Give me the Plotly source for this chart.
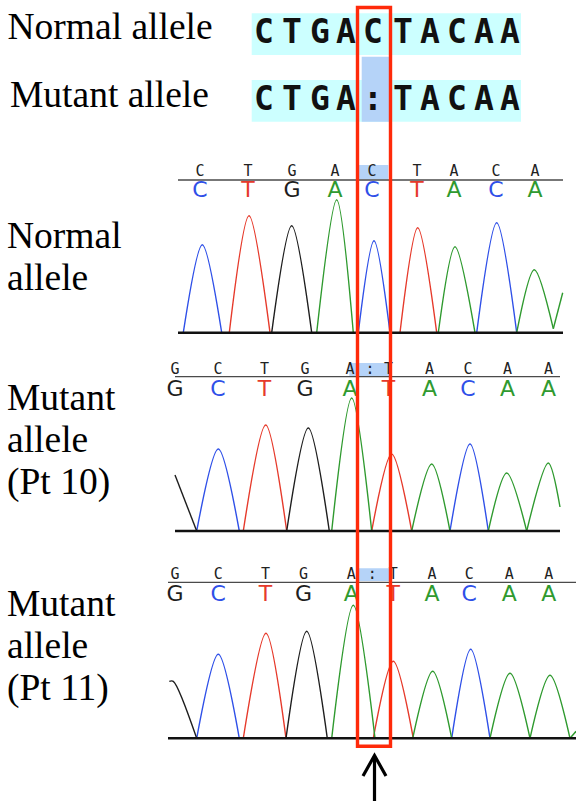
import plotly.graph_objects as go

W, H = 576, 801

# ---------------- data ----------------
SEQ_NORMAL = list("CTGACTACAA")
SEQ_MUTANT = list("CTGA:TACAA")
SEQ_POS = [264, 292, 320, 346, 373, 403, 430, 457, 484, 510]

BASE_COLORS = {"A": "#2f9a2f", "C": "#2f50e8", "G": "#1e1e1e", "T": "#e63a2b"}

# Panel 1 - normal allele
P1_CALLS = ["C", "T", "G", "A", "C", "T", "A", "C", "A"]
P1_CALL_POS = [200, 248, 292, 335, 372, 417, 454, 496, 535]
P1_PEAK_BASE = ["C", "T", "G", "A", "C", "T", "A", "C", "A", "A"]
P1_X0 = [183.3, 229.3, 271.7, 316.7, 358.3, 400.0, 438.3, 476.7, 516.7, 553.3]
P1_XP = [202.3, 249.0, 291.7, 336.7, 374.0, 417.7, 455.0, 496.7, 534.3, None]
P1_X1 = [221.7, 270.0, 311.7, 353.3, 390.0, 436.7, 475.0, 516.7, 553.3, 562.7]
P1_Y0 = [0, 0, 0, 0, 0, 0, 0, 0, 0, 4]
P1_YP = [88, 117, 107, 133, 92, 105, 86, 110, 63, None]
P1_Y1 = [0, 0, 0, 0, 0, 0, 0, 0, 4, 40]

# Panel 2 - mutant allele (Pt 10)
P2_CALLS = ["G", "C", "T", "G", "A", ":", "T", "A", "C", "A", "A"]
P2_CALL_POS = [175, 218, 264.5, 305, 350, 370, 388.5, 429.5, 468, 507.5, 548.5]
P2_PEAK_BASE = ["G", "C", "T", "G", "A", "T", "A", "C", "A", "A"]
P2_X0 = [None, 196.7, 243.3, 286.7, 331.7, 371.7, 411.7, 450.0, 488.3, 526.7]
P2_XP = [175.0, 218.3, 265.7, 308.3, 351.7, 391.7, 431.7, 470.0, 506.7, 548.3]
P2_X1 = [196.7, 239.3, 286.7, 329.3, 371.7, 411.7, 450.0, 488.3, 526.7, 560.0]
P2_Y0 = [0, 0, 0, 0, 0, 0, 0, 0, 0, 0]
P2_YP = [56, 82, 106, 103, 133, 77, 67, 87, 58, 68]
P2_Y1 = [0, 0, 0, 0, 0, 0, 0, 0, 0, 24]

# Panel 3 - mutant allele (Pt 11)
P3_CALLS = ["G", "C", "T", "G", "A", ":", "T", "A", "C", "A", "A"]
P3_CALL_POS = [175, 218.3, 265.5, 303.5, 351.3, 372.3, 393.3, 432.0, 469.3, 509.3, 548.8]
P3_PEAK_BASE = ["G", "C", "T", "G", "A", "T", "A", "C", "A", "A", "A"]
P3_X0 = [169.3, 196.7, 243.3, 286.0, 331.7, 373.3, 412.7, 451.7, 490.0, 530.0, 570.0]
P3_XP = [173.3, 218.3, 266.0, 306.7, 353.3, 393.3, 432.7, 470.7, 510.0, 550.0, None]
P3_X1 = [196.7, 239.3, 286.0, 327.3, 375.0, 413.3, 451.7, 490.0, 530.0, 570.0, 576.0]
P3_Y0 = [57, 0, 0, 0, 0, 0, 0, 0, 0, 0, 0]
P3_YP = [57, 84, 105, 107, 133, 77, 67, 89, 65, 63, None]
P3_Y1 = [0, 0, 0, 0, 0, 0, 0, 0, 0, 0, 7]

TOP_LABELS = ["Normal allele", "Mutant allele"]
SIDE_LABELS = [["Normal", "allele"],
               ["Mutant", "allele", "(Pt 10)"],
               ["Mutant", "allele", "(Pt 11)"]]

# ---------------- layout geometry (pixels) ----------------
PANELS = [
    dict(base=332.7, top_line=180.0, x_from=178, x_to=563, small_y=172.7, big_y=191.7,
         hl=(358.3, 388.3, 165.0, 179.3),
         calls=P1_CALLS, call_pos=P1_CALL_POS, peaks=(P1_PEAK_BASE, P1_X0, P1_XP, P1_X1, P1_Y0, P1_YP, P1_Y1)),
    dict(base=531.0, top_line=376.7, x_from=175, x_to=560, small_y=370.0, big_y=390.3,
         hl=(349.3, 391.7, 363.0, 376.0),
         calls=P2_CALLS, call_pos=P2_CALL_POS, peaks=(P2_PEAK_BASE, P2_X0, P2_XP, P2_X1, P2_Y0, P2_YP, P2_Y1)),
    dict(base=738.3, top_line=582.3, x_from=168, x_to=576, small_y=575.0, big_y=595.0,
         hl=(356.7, 390.0, 568.3, 581.0),
         calls=P3_CALLS, call_pos=P3_CALL_POS, peaks=(P3_PEAK_BASE, P3_X0, P3_XP, P3_X1, P3_Y0, P3_YP, P3_Y1)),
]
SIDE_BASELINES = [[251.7, 293.3], [413.3, 455.5, 497.5], [620.0, 662.0, 704.0]]
LO, HI = -6, 174

fig = go.Figure()
shapes = []

# sequence alignment backgrounds
for y0, y1 in [(13.3, 55.0), (80.0, 121.7)]:
    shapes.append(dict(type="rect", xref="x", yref="y", x0=251.7, x1=521, y0=y0, y1=y1,
                       fillcolor="#ccffff", line_width=0, layer="below"))
shapes.append(dict(type="rect", xref="x", yref="y", x0=361.7, x1=389, y0=56.7, y1=121.7,
                   fillcolor="#b5d3f8", line_width=0, layer="below"))

layout_axes = {}
for i, p in enumerate(PANELS):
    ax = i + 2
    yname = f"y{ax}"
    d0 = (H - (p["base"] - LO)) / H
    d1 = (H - (p["base"] - HI)) / H
    layout_axes[f"yaxis{ax}"] = dict(domain=[d0, d1], range=[LO, HI], visible=False,
                                    anchor="x", fixedrange=True)
    x0, x1, y0, y1 = p["hl"]
    shapes.append(dict(type="rect", xref="x", yref="y", x0=x0, x1=x1, y0=y0, y1=y1,
                       fillcolor="#b5d3f8", line_width=0, layer="below"))
    shapes.append(dict(type="line", xref="x", yref="y", x0=p["x_from"], x1=p["x_to"],
                       y0=p["top_line"], y1=p["top_line"], line=dict(color="#4a4a4a", width=1.3),
                       layer="below"))
    bases, X0, XP, X1, Y0, YP, Y1 = p["peaks"]
    for b in ["C", "T", "G", "A"]:
        xs, ys = [], []
        for k, bb in enumerate(bases):
            if bb != b:
                continue
            for xv, yv in [(X0[k], Y0[k]), (XP[k], YP[k]), (X1[k], Y1[k])]:
                if xv is not None:
                    xs.append(xv)
                    ys.append(yv)
            xs.append(None)
            ys.append(None)
        fig.add_trace(go.Scatter(x=xs, y=ys, xaxis="x", yaxis=yname, mode="lines",
                                 line=dict(color=BASE_COLORS[b], width=1.4, shape="spline", smoothing=0.85),
                                 hoverinfo="skip", connectgaps=False))
    shapes.append(dict(type="line", xref="x", yref=yname, x0=p["x_from"], x1=p["x_to"],
                       y0=0, y1=0, line=dict(color="#111111", width=2.6), layer="above"))
    fig.add_trace(go.Scatter(x=p["call_pos"], y=[p["small_y"]] * len(p["calls"]), xaxis="x", yaxis="y",
                             mode="text", text=p["calls"], textposition="middle center",
                             textfont=dict(family="DejaVu Sans Mono", size=15, color="#222222"),
                             hoverinfo="skip", cliponaxis=False))
    cx = [x for x, c in zip(p["call_pos"], p["calls"]) if c != ":"]
    cc = [c for c in p["calls"] if c != ":"]
    fig.add_trace(go.Scatter(x=cx, y=[p["big_y"]] * len(cc), xaxis="x", yaxis="y",
                             mode="text", text=cc, textposition="middle center",
                             textfont=dict(family="DejaVu Sans", size=22,
                                           color=[BASE_COLORS[c] for c in cc]),
                             hoverinfo="skip", cliponaxis=False))

# top alignment letters
for seq, yc in [(SEQ_NORMAL, 35.0), (SEQ_MUTANT, 101.7)]:
    fig.add_trace(go.Scatter(x=SEQ_POS, y=[yc] * len(seq), xaxis="x", yaxis="y", mode="text",
                             text=seq, textposition="middle center",
                             textfont=dict(family="DejaVu Sans Mono", size=33, color="#111111",
                                           weight="bold"),
                             hoverinfo="skip", cliponaxis=False))

# labels
FS = 37.5
lab_x, lab_y, lab_t = [], [], []
for t, bl in zip(TOP_LABELS, [42.7, 110.7]):
    lab_x.append(7.5 if t.startswith("N") else 10)
    lab_y.append(bl - 0.35 * FS)
    lab_t.append(t)
for lines, bls in zip(SIDE_LABELS, SIDE_BASELINES):
    for t, bl in zip(lines, bls):
        lab_x.append(7)
        lab_y.append(bl - 0.35 * FS)
        lab_t.append(t)
fig.add_trace(go.Scatter(x=lab_x, y=lab_y, xaxis="x", yaxis="y", mode="text", text=lab_t,
                         textposition="middle right",
                         textfont=dict(family="Liberation Serif", size=FS, color="#000000"),
                         hoverinfo="skip", cliponaxis=False))

# red box marking the deleted C
shapes.append(dict(type="rect", xref="x", yref="y", x0=357.5, x1=390.5, y0=7.5, y1=746.3,
                   line=dict(color="#ff2a0a", width=3.4), fillcolor="rgba(0,0,0,0)", layer="above"))
# arrow
shapes.append(dict(type="line", xref="x", yref="y", x0=374.5, x1=374.5, y0=801, y1=756,
                   line=dict(color="#000000", width=3.2), layer="above"))
shapes.append(dict(type="path", xref="x", yref="y", path="M 363,776 L 374.5,755.5 L 386,776",
                   line=dict(color="#000000", width=3.2), layer="above"))

fig.update_layout(
    width=W, height=H, margin=dict(l=0, r=0, t=0, b=0),
    paper_bgcolor="white", plot_bgcolor="rgba(0,0,0,0)", showlegend=False,
    xaxis=dict(range=[0, W], visible=False, domain=[0, 1], anchor="y", fixedrange=True),
    yaxis=dict(range=[H, 0], visible=False, domain=[0, 1], anchor="x", fixedrange=True),
    shapes=shapes,
    **layout_axes,
)

fig.write_html("out.html", config={"displayModeBar": False},
               post_script="document.body.style.margin='0';document.body.style.overflow='hidden';")
